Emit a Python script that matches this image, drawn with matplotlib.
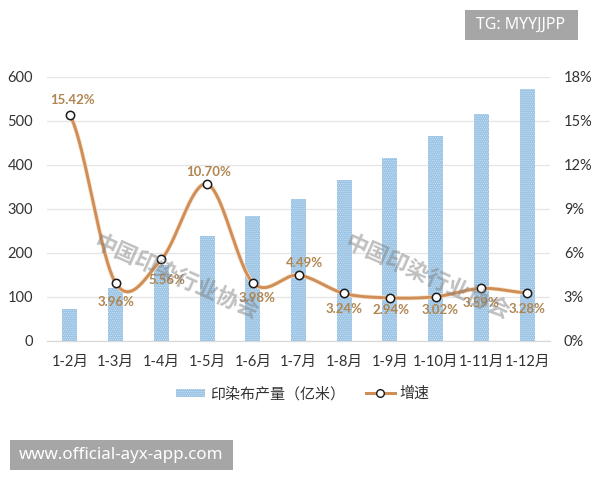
import numpy as np
import matplotlib
matplotlib.use("Agg")
import matplotlib.pyplot as plt
from matplotlib.patches import Rectangle, Patch
from matplotlib.lines import Line2D

plt.rcParams['font.family'] = ['Lato', 'Noto Sans CJK SC', 'DejaVu Sans']
plt.rcParams['hatch.linewidth'] = 0.4

categories = ['1-2月','1-3月','1-4月','1-5月','1-6月','1-7月','1-8月','1-9月','1-10月','1-11月','1-12月']
output = [72, 120, 172, 238, 283, 322, 367, 416, 466, 516, 572]
growth = [15.42, 3.96, 5.56, 10.70, 3.98, 4.49, 3.24, 2.94, 3.02, 3.59, 3.28]
growth_labels = ['15.42%','3.96%','5.56%','10.70%','3.98%','4.49%','3.24%','2.94%','3.02%','3.59%','3.28%']
label_dx = [3, 0, 6, 2, 4, 6, 0, 1, 4, 0, 0]
label_dy = [15, -19, -21, 12, -15, 12, -16, -12, -13, -15, -16]

W, H = 600, 480
fig = plt.figure(figsize=(W/100, H/100), dpi=100, facecolor='white')
L, R, T, B = 47, 550, 77, 341
ax = fig.add_axes([L/W, 1-B/H, (R-L)/W, (B-T)/H])
ax2 = ax.twinx()
x = np.arange(len(categories))

bar_c = '#9cc4e4'
ax.bar(x, output, width=0.33, color=bar_c, hatch='........', edgecolor='#d6e8f6', linewidth=0, zorder=2)
ax.set_xlim(-0.5, len(x)-0.5)
ax.set_ylim(0, 600)
ax.set_yticks(range(0, 601, 100))
ax.grid(axis='y', color='#e6e6e6', lw=1, zorder=0)
ax.set_axisbelow(True)
ax.set_xticks(x)
ax.set_xticklabels(categories)
ax.tick_params(axis='both', length=0, labelsize=10.5, colors='#333333')
ax.tick_params(axis='x', pad=10)
ax.tick_params(axis='y', pad=10)
for a in (ax, ax2):
    for k, s in a.spines.items():
        s.set_visible(k == 'bottom')
        s.set_color('#d9d9d9')

# Excel-style smoothed line: Catmull-Rom segments through the values
g = np.array(growth, float)
xs, ys = [], []
for i in range(len(g)-1):
    p0 = g[max(i-1, 0)]; p1 = g[i]; p2 = g[i+1]; p3 = g[min(i+2, len(g)-1)]
    t = np.linspace(0, 1, 40)
    ys.append(0.5*((2*p1) + (-p0+p2)*t + (2*p0-5*p1+4*p2-p3)*t**2 + (-p0+3*p1-3*p2+p3)*t**3))
    xs.append(i + t)
ax2.plot(np.concatenate(xs), np.concatenate(ys), color='#f8e0c4', lw=3.2, zorder=3, solid_capstyle='round')
ax2.plot(np.concatenate(xs), np.concatenate(ys), color='#cf8d58', lw=2.1, zorder=4, solid_capstyle='round')
ax2.plot(x, g, ls='none', marker='o', ms=6, mfc='white', mec='#1a1a1a', mew=1.1, zorder=5)
ax2.set_ylim(0, 18)
ax2.set_yticks(range(0, 19, 3))
ax2.set_yticklabels([f'{v}%' for v in range(0, 19, 3)])
ax2.tick_params(axis='y', length=0, labelsize=10.5, colors='#333333', pad=10)

for xi, gi, lab, dx, dy in zip(x, g, growth_labels, label_dx, label_dy):
    ax2.annotate(lab, (xi, gi), xytext=(dx*0.72, dy*0.72), textcoords='offset points', ha='center', va='center',
                 fontsize=9.5, fontweight='bold', color='#b08550', zorder=6)

# watermarks
for fx, fy in [(176, 277), (427, 277)]:
    fig.text(fx/W, 1-fy/H, '中国印染行业协会', rotation=-24, rotation_mode='anchor', ha='center', va='center',
             fontsize=16, fontweight='bold', color='#808080', alpha=0.5, zorder=10,
             family=['Noto Sans CJK SC', 'DejaVu Sans'])

# legend
handles = [Patch(facecolor=bar_c, hatch='........', edgecolor='#d6e8f6', linewidth=0),
           Line2D([0], [0], color='#cf8d58', lw=2.2, marker='o', ms=5.5, mfc='white', mec='#1a1a1a', mew=1)]
fig.legend(handles, ['印染布产量（亿米）', '增速'], loc='center', bbox_to_anchor=(303/W, 1-394/H), ncol=2,
           frameon=False, fontsize=10.8, labelcolor='#333333', handlelength=1.9, handleheight=0.5,
           columnspacing=1.4, handletextpad=0.35)

# overlay boxes
fig.add_artist(Rectangle((465/W, 1-40/H), 113/W, 30/H, transform=fig.transFigure, fc='#a6a6a6', ec='none', zorder=20))
fig.text(521/W, 1-25/H, 'TG: MYYJJPP', ha='center', va='center', color='white', fontsize=11.5, zorder=21, family='Noto Sans')
fig.add_artist(Rectangle((10/W, 1-470/H), 223/W, 30/H, transform=fig.transFigure, fc='#a6a6a6', ec='none', zorder=20))
fig.text(121.5/W, 1-455/H, 'www.official-ayx-app.com', ha='center', va='center', color='white', fontsize=12.2, zorder=21, family='Noto Sans')

fig.savefig('out.png', dpi=100, facecolor='white')
